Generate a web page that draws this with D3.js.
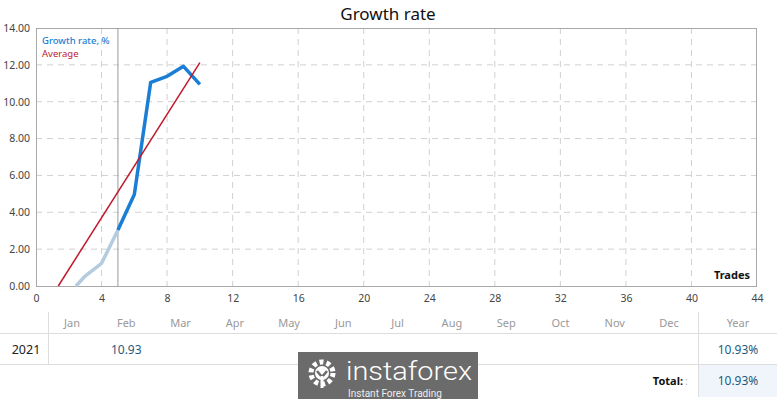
<!DOCTYPE html>
<html><head><meta charset="utf-8">
<script src="https://cdn.jsdelivr.net/npm/d3@7"></script>
<style>body{margin:0;background:#fff;}svg{display:block;font-family:"Noto Sans",sans-serif;}</style>
</head><body><svg id="c" width="777" height="399"></svg>
<script>
const xTicks = [0,4,8,12,16,20,24,28,32,36,40,44];
const yTicks = [0,2,4,6,8,10,12,14];
const earlyX = [2.44,3,4,5];
const earlyY = [0,0.54,1.23,3.04];
const growthX = [5,6,7,8,9,10];
const growthY = [3.04,4.97,11.05,11.38,11.92,10.94];
const avgX = [1.36,10];
const avgY = [0,12.12];
const splitX = 5;
const months = ["Jan","Feb","Mar","Apr","May","Jun","Jul","Aug","Sep","Oct","Nov","Dec"];
const years = ["2021"];
const monthVals = [[null,"10.93",null,null,null,null,null,null,null,null,null,null]];
const yearVals = ["10.93%"];
const totalVal = "10.93%";

const svg = d3.select("#c");
const L=36,R=757,T=28,B=286;
const x = d3.scaleLinear().domain([0,44]).range([L,R]);
const y = d3.scaleLinear().domain([0,14]).range([B,T]);

svg.append("text").attr("x",388).attr("y",20).attr("text-anchor","middle")
  .attr("font-size",17).attr("fill","#111").text("Growth rate");

// grid
const g = svg.append("g");
g.selectAll(".vg").data(xTicks.filter(d=>d>0&&d<44)).join("line")
  .attr("x1",d=>x(d)).attr("x2",d=>x(d)).attr("y1",T).attr("y2",B)
  .attr("stroke","#d0d0d0").attr("stroke-dasharray","6,5");
g.selectAll(".hg").data(yTicks.filter(d=>d>0&&d<14)).join("line")
  .attr("x1",L).attr("x2",R).attr("y1",d=>y(d)).attr("y2",d=>y(d))
  .attr("stroke","#d0d0d0").attr("stroke-dasharray","6,5");
svg.append("rect").attr("x",L+0.5).attr("y",T+0.5).attr("width",R-L-1).attr("height",B-T)
  .attr("fill","none").attr("stroke","#a8a8a8");
svg.append("line").attr("x1",x(splitX)).attr("x2",x(splitX)).attr("y1",T).attr("y2",B)
  .attr("stroke","#999").attr("stroke-width",1);

// axes
const xa = svg.append("g").attr("transform",`translate(0,${B})`)
  .call(d3.axisBottom(x).tickValues(xTicks).tickSize(0).tickPadding(9).tickFormat(d3.format("d")));
xa.select(".domain").remove();
xa.selectAll("text").attr("font-size",10.5).attr("fill","#444").attr("font-family","Noto Sans, sans-serif");
const ya = svg.append("g").attr("transform",`translate(${L},0)`)
  .call(d3.axisLeft(y).tickValues(yTicks).tickSize(0).tickPadding(6).tickFormat(d3.format(".2f")));
ya.select(".domain").remove();
ya.selectAll("text").attr("font-size",10.5).attr("fill","#444").attr("font-family","Noto Sans, sans-serif");

svg.append("text").attr("x",750).attr("y",279).attr("text-anchor","end")
  .attr("font-size",11).attr("font-weight","bold").attr("fill","#111").text("Trades");

const line = d3.line().x(d=>x(d[0])).y(d=>y(d[1]));
svg.append("path").datum(d3.zip(earlyX,earlyY)).attr("d",line)
  .attr("fill","none").attr("stroke","#b4cbe0").attr("stroke-width",3.5).attr("stroke-linejoin","round");
svg.append("path").datum(d3.zip(growthX,growthY)).attr("d",line)
  .attr("fill","none").attr("stroke","#1a7fd4").attr("stroke-width",3.5).attr("stroke-linejoin","round");
svg.append("path").datum(d3.zip(avgX,avgY)).attr("d",line)
  .attr("fill","none").attr("stroke","#c0182a").attr("stroke-width",1.5);

svg.append("text").attr("x",42).attr("y",44).attr("font-size",9.5).attr("font-weight","500").attr("fill","#1a7fd4").text("Growth rate, %");
svg.append("text").attr("x",42).attr("y",57).attr("font-size",9.5).attr("fill","#c0182a").text("Average");

// table
const mx = d3.scalePoint().domain(months).range([72,669]);
const tb = svg.append("g");
tb.append("line").attr("x1",48.5).attr("x2",48.5).attr("y1",312).attr("y2",364).attr("stroke","#ddd");
tb.append("line").attr("x1",698.5).attr("x2",698.5).attr("y1",312).attr("y2",397).attr("stroke","#ddd");
tb.append("line").attr("x1",0).attr("x2",777).attr("y1",333.5).attr("y2",333.5).attr("stroke","#ddd");
tb.append("line").attr("x1",0).attr("x2",777).attr("y1",364.5).attr("y2",364.5).attr("stroke","#ddd");
tb.append("rect").attr("x",699).attr("y",365).attr("width",78).attr("height",32).attr("fill","#f0f5fb");
tb.selectAll(".m").data(months).join("text").attr("x",d=>mx(d)).attr("y",327)
  .attr("text-anchor","middle").attr("font-size",11).attr("fill","#999").text(d=>d);
tb.append("text").attr("x",738).attr("y",327).attr("text-anchor","middle").attr("font-size",11).attr("fill","#999").text("Year");
years.forEach((yr,i)=>{
  const yy = 354 + i*31;
  tb.append("text").attr("x",26).attr("y",yy).attr("text-anchor","middle").attr("font-size",12.5).attr("fill","#222").text(yr);
  monthVals[i].forEach((v,j)=>{ if(v!==null) tb.append("text").attr("x",mx(months[j])).attr("y",yy)
    .attr("text-anchor","middle").attr("font-size",12).attr("fill","#1e5a80").text(v); });
  tb.append("text").attr("x",738).attr("y",yy).attr("text-anchor","middle").attr("font-size",12).attr("fill","#1e5a80").text(yearVals[i]);
});
tb.append("text").attr("x",683).attr("y",385).attr("text-anchor","end").attr("font-size",11).attr("font-weight","bold").attr("fill","#111").text("Total:");
tb.append("text").attr("x",685).attr("y",385).attr("font-size",11).attr("fill","#bbb").text(":");
tb.append("text").attr("x",738).attr("y",385).attr("text-anchor","middle").attr("font-size",12).attr("fill","#1e5a80").text(totalVal);

// watermark
const wm = svg.append("g");
wm.append("rect").attr("x",298).attr("y",352).attr("width",180).attr("height",47).attr("fill","#6b6b6b");
const cx=322, cy=373;
wm.append("circle").attr("cx",cx).attr("cy",cy).attr("r",11).attr("fill","none").attr("stroke","#fff").attr("stroke-width",5).attr("stroke-dasharray","4,3");
wm.append("circle").attr("cx",cx).attr("cy",cy).attr("r",7).attr("fill","#fff");
wm.append("path").attr("d",`M${cx-5},${cy-2} L${cx},${cy+4} L${cx+5},${cy-2}`).attr("stroke","#6b6b6b").attr("stroke-width",2.5).attr("fill","none");
wm.append("rect").attr("x",cx-1.5).attr("y",cy+3).attr("width",3).attr("height",12).attr("fill","#fff");
wm.append("text").attr("x",346).attr("y",380).attr("font-size",25).attr("textLength",126).attr("lengthAdjust","spacingAndGlyphs").attr("fill","#fff").attr("font-family","Roboto, sans-serif").attr("font-weight","300").text("instaforex");
wm.append("text").attr("x",348).attr("y",396.5).attr("font-size",10).attr("fill","#eee").attr("font-family","Roboto, sans-serif").text("Instant Forex Trading");
</script></body></html>
